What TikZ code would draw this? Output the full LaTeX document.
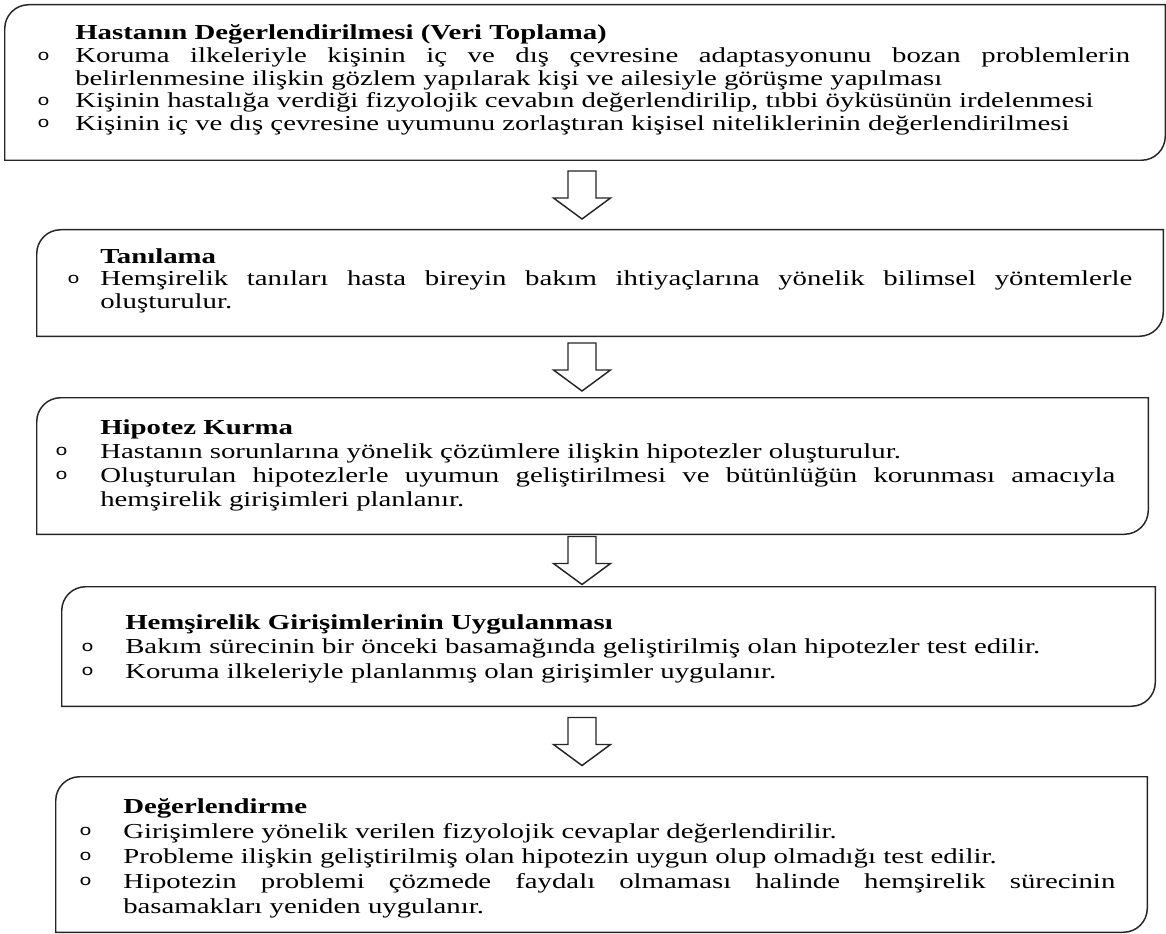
\documentclass[tikz,border=0pt]{standalone}
\usepackage{fontspec}
\usepackage{graphicx}
\setmainfont{Liberation Serif}
\newfontfamily\bulletfont{Liberation Mono}
\usetikzlibrary{calc,fit}

% hollow bullet hanging left of the text, justified line, plain line
\newcommand\bul[1]{\llap{\makebox[#1][l]{\raisebox{1.8pt}{\fontsize{11.5}{12}\bulletfont o}}}}
\newcommand\jline[1]{\makebox[\linewidth][s]{#1}}
\newcommand\sx{1.35}

\tikzset{
  stage/.style={inner sep=0pt},
  stageline/.style={draw=black!85, line width=1.1pt},
  stagetext/.style={anchor=base west, inner sep=0pt, font={\fontsize{16}{#1}\selectfont}},
  blockarrow/.style={draw=black!85, line width=1.1pt, fill=white, line join=miter},
}

% frame with round top-left and bottom-right corners
\newcommand\stageframe[1]{%
  \draw[stageline] ([yshift=-18pt]#1.north west) .. controls ([yshift=-8pt]#1.north west) and ([xshift=8pt]#1.north west) .. ([xshift=18pt]#1.north west)
    -- (#1.north east) -- ([yshift=18pt]#1.south east) .. controls ([yshift=8pt]#1.south east) and ([xshift=-8pt]#1.south east) .. ([xshift=-18pt]#1.south east)
    -- (#1.south west) -- cycle;}

\begin{document}
\begin{tikzpicture}[x=0.75pt, y=-0.75pt]
    \useasboundingbox (0,0) rectangle (1166,934);

    % Stage boxes
    \node[stage, fit={(5,5) (1165,160)}] (hasta) {};
    \node[stage, fit={(37,230) (1163,336)}] (tani) {};
    \node[stage, fit={(37,398) (1148,534)}] (hipotez) {};
    \node[stage, fit={(62,587) (1155,706)}] (uygula) {};
    \node[stage, fit={(56,777) (1147,932)}] (degerl) {};
    \foreach \b in {hasta,tani,hipotez,uygula,degerl}
        \stageframe{\b};

    % Texts
    \node[stagetext=16.9pt] (hastatxt) at (75,40) {\scalebox{\sx}[1]{\parbox[t]{586pt}{%
        \mbox{\bfseries Hastanın Değerlendirilmesi (Veri Toplama)}\\
        \bul{21.1pt}\jline{Koruma ilkeleriyle kişinin iç ve dış çevresine adaptasyonunu bozan problemlerin}\\
        \mbox{belirlenmesine ilişkin gözlem yapılarak kişi ve ailesiyle görüşme yapılması}\\
        \bul{21.1pt}\mbox{Kişinin hastalığa verdiği fizyolojik cevabın değerlendirilip, tıbbi öyküsünün irdelenmesi}\\
        \bul{21.1pt}\mbox{Kişinin iç ve dış çevresine uyumunu zorlaştıran kişisel niteliklerinin değerlendirilmesi}}}};

    \node[stagetext=16.9pt] (tanitxt) at (100,263) {\scalebox{\sx}[1]{\parbox[t]{573.3pt}{%
        \mbox{\bfseries Tanılama}\\
        \bul{18.3pt}\jline{Hemşirelik tanıları hasta bireyin bakım ihtiyaçlarına yönelik bilimsel yöntemlerle}\\
        \mbox{oluşturulur.}}}};

    \node[stagetext=18pt] (hipoteztxt) at (100,434) {\scalebox{\sx}[1]{\parbox[t]{563.9pt}{%
        \mbox{\bfseries Hipotez Kurma}\\
        \bul{25pt}\mbox{Hastanın sorunlarına yönelik çözümlere ilişkin hipotezler oluşturulur.}\\
        \bul{25pt}\jline{Oluşturulan hipotezlerle uyumun geliştirilmesi ve bütünlüğün korunması amacıyla}\\
        \mbox{hemşirelik girişimleri planlanır.}}}};

    \node[stagetext=18.4pt] (uygulatxt) at (125,629) {\scalebox{\sx}[1]{\parbox[t]{560pt}{%
        \mbox{\bfseries Hemşirelik Girişimlerinin Uygulanması}\\
        \bul{24.4pt}\mbox{Bakım sürecinin bir önceki basamağında geliştirilmiş olan hipotezler test edilir.}\\
        \bul{24.4pt}\mbox{Koruma ilkeleriyle planlanmış olan girişimler uygulanır.}}}};

    \node[stagetext=18.75pt] (degerltxt) at (123,813) {\scalebox{\sx}[1]{\parbox[t]{551.1pt}{%
        \mbox{\bfseries Değerlendirme}\\
        \bul{24.4pt}\mbox{Girişimlere yönelik verilen fizyolojik cevaplar değerlendirilir.}\\
        \bul{24.4pt}\mbox{Probleme ilişkin geliştirilmiş olan hipotezin uygun olup olmadığı test edilir.}\\
        \bul{24.4pt}\jline{Hipotezin problemi çözmede faydalı olmaması halinde hemşirelik sürecinin}\\
        \mbox{basamakları yeniden uygulanır.}}}};

    % Hollow block arrows between stages
    \foreach \up/\dn in {hasta/tani, tani/hipotez, hipotez/uygula, uygula/degerl} {
        \path (582,0) coordinate (ax);
        \coordinate (am) at ($(ax |- \up.south)!0.5!(ax |- \dn.north)$);
        \draw[blockarrow] ($(am)+(-14,-24)$) -- ($(am)+(14,-24)$) -- ($(am)+(14,3)$) -- ($(am)+(28.5,3)$)
            -- ($(am)+(0,24)$) -- ($(am)+(-28.5,3)$) -- ($(am)+(-14,3)$) -- cycle;
    }

\end{tikzpicture}
\end{document}
